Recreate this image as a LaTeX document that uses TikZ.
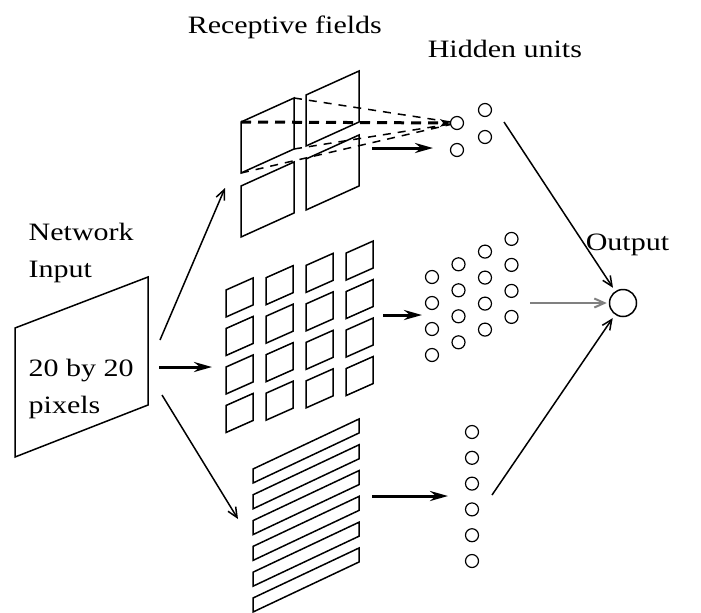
\documentclass[tikz,border=0pt]{standalone}
\usepackage{fontspec}
\setmainfont{Liberation Serif}[FakeStretch=1.2]
\usetikzlibrary{arrows.meta,calc}
\definecolor{LinkClr}{RGB}{128,128,128}

\begin{document}
\begin{tikzpicture}[x=0.5pt,y=-0.5pt,line width=0.75pt,
  every node/.style={font=\fontsize{12.5}{18.5}\selectfont,inner sep=0pt},
  unit/.style={draw,circle,minimum size=6.5pt,line width=0.6pt},
  field/.style={line width=0.75pt},
  thin arrow/.style={-{Straight Barb[length=5pt,width=4.5pt]}},
  thick arrow/.style={line width=1.5pt,-{Stealth[length=9pt,width=5pt,inset=3pt]}}]
\useasboundingbox (0,0) rectangle (701,612);

\foreach \p/\x/\y in {I1/160/340,R1/225/188,I2/159/367,R2/212/367,I3/162/395,R3/238/519,
  T1/372/148,T2/433/148,M1/383/315,M2/422/315,B1/372/496,B2/448/496,
  H1/504/122,H2/530/303,H3/492/495,C1/241/122,C2/294/98,C3/294/149,C4/241/173}
  \coordinate (\p) at (\x,\y);

% input image
\draw[field] (15,328) -- (148,277) -- (148,405) -- (15,457) -- cycle;
\node[align=left,anchor=north west] (net) at (28,222) {Network\\Input};
\node[align=left,anchor=north west] (pix) at (28,358) {20 by 20\\pixels};

% receptive fields
\foreach \x/\y in {241/173,306/146,241/237,306/210}
  \draw[field] (\x,\y) -- ++(53,-24) -- ++(0,-51) -- ++(-53,24) -- cycle;
\foreach \i in {0,...,3}
  \foreach \j in {0,...,3}
    \draw[field] ({226+40*\i},{317+38.5*\j-12.3*\i}) -- ++(27,-12) -- ++(0,-27) -- ++(-27,12) -- cycle;
\foreach \k in {0,...,5}
  \draw[field] (253,{483+25.8*\k}) -- ++(106,-50) -- ++(0,-14) -- ++(-106,50) -- cycle;

% hidden units
\node[unit] (h1) at (457,123) {};
\node[unit] (h2) at (457,150) {};
\node[unit] (h3) at (485,110) {};
\node[unit] (h4) at (485,137) {};
\foreach \i in {0,...,3}
  \foreach \j in {0,...,3}
    \node[unit] (m\i\j) at ({432+26.5*\i},{277-12.7*\i+26*\j}) {};
\foreach \k in {0,...,5}
  \node[unit] (b\k) at (472,{432+25.8*\k}) {};
\node[draw,circle,minimum size=13.5pt] (out) at (623,303) {};

\node[anchor=base west] (rf) at (187,33) {Receptive fields};
\node[anchor=base west] (hu) at (427,57) {Hidden units};
\node[anchor=base west] (ol) at (585,250) {Output};

\draw[thin arrow] (I1) -- (R1);
\draw[thick arrow] (I2) -- (R2);
\draw[thin arrow] (I3) -- (R3);
\draw[thick arrow] (T1) -- (T2);
\draw[thick arrow] (M1) -- (M2);
\draw[thick arrow] (B1) -- (B2);
\draw[thin arrow,shorten >=2pt] (H1) -- (out);
\draw[thin arrow,LinkClr,line width=1pt,shorten >=1pt] (H2) -- (out);
\draw[thin arrow,shorten >=2pt] (H3) -- (out);

\draw[line width=1.5pt,dash pattern=on 5pt off 3.5pt,-{Stealth[length=5pt,width=4pt]}] (C1) -- (h1);
\draw[dash pattern=on 4pt off 3.5pt] (C2) -- (h1) (C3) -- (h1) (C4) -- (h1);

\end{tikzpicture}
\end{document}
